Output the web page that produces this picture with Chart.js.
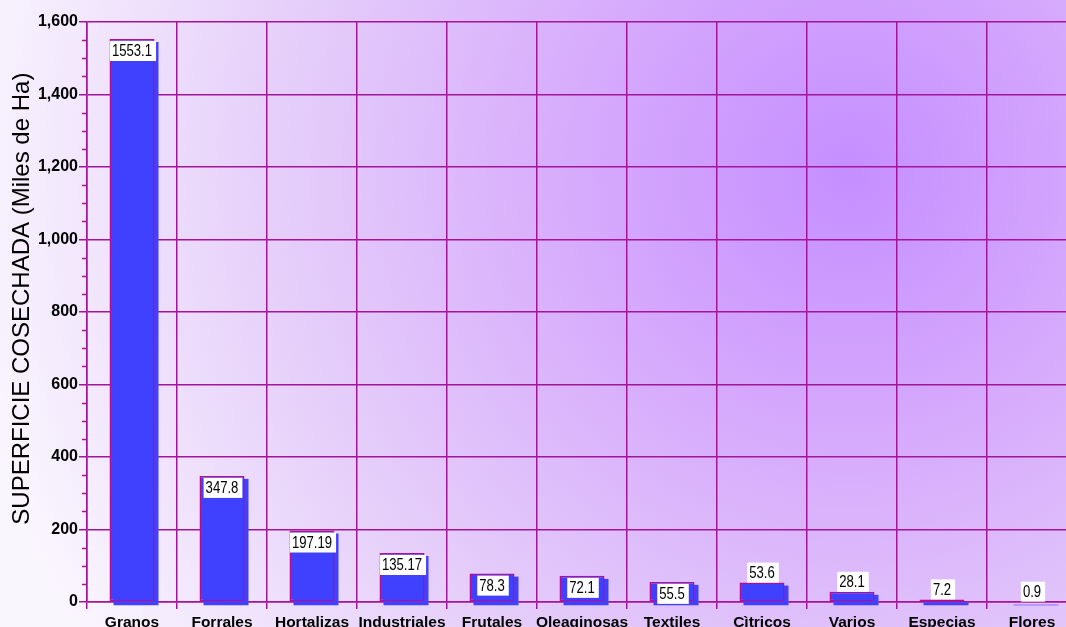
<!DOCTYPE html>
<html>
<head>
<meta charset="utf-8">
<script src="https://cdn.jsdelivr.net/npm/chart.js@4.4.1/dist/chart.umd.min.js"></script>
<style>
  html, body { margin: 0; padding: 0; overflow: hidden; background: #f6f0fd; }
  canvas { display: block; }
</style>
</head>
<body>
<canvas id="chart" width="1080" height="640"></canvas>
<script>
// categories and harvested area (miles de Ha)
const categories = ["Granos", "Forrales", "Hortalizas", "Industriales", "Frutales", "Oleaginosas",
  "Textiles", "Cìtricos", "Varios", "Especias", "Flores"];
const superficie = [1553.1, 347.8, 197.19, 135.17, 78.3, 72.1, 55.5, 53.6, 28.1, 7.2, 0.9];
const yMax = 1600;
const yStep = 200;
const yMinorStep = 50;

const gridColor = "#a3149a";
const barBlue = "#4040ff";

// radial purple background
const backgroundPlugin = {
  id: "bg",
  beforeDraw(chart) {
    const ctx = chart.ctx;
    const g = ctx.createRadialGradient(850, 170, 0, 850, 170, 900);
    g.addColorStop(0, "#c58eff");
    g.addColorStop(0.3, "#d6aafc");
    g.addColorStop(0.65, "#e6d0fa");
    g.addColorStop(1, "#faf6fe");
    ctx.save();
    ctx.fillStyle = g;
    ctx.fillRect(0, 0, chart.width, chart.height);
    ctx.restore();
  }
};

// blue offset "shadow" behind each bar
const barShadowPlugin = {
  id: "barShadow",
  beforeDatasetsDraw(chart) {
    const ctx = chart.ctx;
    ctx.save();
    ctx.fillStyle = barBlue;
    chart.getDatasetMeta(0).data.forEach((bar) => {
      const { x, y, base, width } = bar.getProps(["x", "y", "base", "width"], true);
      ctx.fillRect(x - width / 2 + 4, y + 3, width, base - y + 1);
    });
    ctx.restore();
  }
};

// short minor ticks on the value axis
const minorTicksPlugin = {
  id: "minorTicks",
  afterDraw(chart) {
    const y = chart.scales.y;
    const ctx = chart.ctx;
    ctx.save();
    ctx.strokeStyle = gridColor;
    ctx.lineWidth = 1.5;
    for (let v = 0; v <= yMax; v += yMinorStep) {
      if (v % yStep === 0) continue;
      const py = Math.round(y.getPixelForValue(v)) + 0.5;
      ctx.beginPath();
      ctx.moveTo(y.right - 5, py);
      ctx.lineTo(y.right, py);
      ctx.stroke();
    }
    ctx.restore();
  }
};

// white value boxes (narrow-looking text)
const valueLabelPlugin = {
  id: "valueLabels",
  afterDatasetsDraw(chart) {
    const ctx = chart.ctx;
    const data = chart.data.datasets[0].data;
    const squeeze = 0.82;
    ctx.save();
    ctx.font = "16px 'Liberation Sans', Arial, sans-serif";
    ctx.textBaseline = "middle";
    ctx.textAlign = "left";
    chart.getDatasetMeta(0).data.forEach((bar, i) => {
      const { x, y } = bar.getProps(["x", "y"], true);
      const txt = String(data[i]);
      const w = ctx.measureText(txt).width * squeeze;
      const bw = w + 6;
      const bh = 20;
      const top = data[i] >= 55 ? y + 2 : y - bh;
      const left = x - bw / 2 + 1;
      ctx.fillStyle = "#ffffff";
      ctx.fillRect(left, top, bw, bh);
      ctx.fillStyle = "#000000";
      ctx.save();
      ctx.translate(left + 2, top + bh / 2 + 1);
      ctx.scale(squeeze, 1);
      ctx.fillText(txt, 0, 0);
      ctx.restore();
    });
    ctx.restore();
  }
};

new Chart(document.getElementById("chart"), {
  type: "bar",
  data: {
    labels: categories,
    datasets: [
      {
        data: superficie,
        backgroundColor: barBlue,
        borderColor: "#b0108f",
        borderWidth: 1.5,
        borderSkipped: false,
        barPercentage: 0.5,
        categoryPercentage: 1
      }
    ]
  },
  options: {
    responsive: false,
    animation: false,
    devicePixelRatio: 1,
    layout: { padding: { top: 22, right: 3, left: 0, bottom: 0 } },
    plugins: {
      legend: { display: false },
      tooltip: { enabled: false }
    },
    scales: {
      x: {
        grid: { color: gridColor, lineWidth: 1.5, tickLength: 7, tickColor: gridColor, offset: true },
        border: { color: gridColor, width: 1.5 },
        ticks: {
          color: "#000",
          font: { family: "'Liberation Sans', Arial, sans-serif", size: 15.5, weight: "bold" },
          maxRotation: 0,
          autoSkip: false,
          padding: 4
        },
        afterFit(scale) { scale.height = 38; }
      },
      y: {
        min: 0,
        max: yMax,
        grid: { color: gridColor, lineWidth: 1.5, tickLength: 8, tickColor: gridColor },
        border: { color: gridColor, width: 1.5 },
        ticks: {
          stepSize: yStep,
          color: "#000",
          padding: 1,
          font: { family: "'Liberation Sans', Arial, sans-serif", size: 16, weight: "bold" },
          callback: (v) => v.toLocaleString("en-US")
        },
        title: {
          display: true,
          // leading spaces nudge the rotated title upward
          text: "\u00a0\u00a0\u00a0\u00a0SUPERFICIE COSECHADA (Miles de Ha)",
          color: "#000",
          font: { family: "'Liberation Sans', Arial, sans-serif", size: 24, weight: "normal" },
          padding: { top: 8, bottom: 0 }
        },
        afterFit(scale) { scale.width = 87; }
      }
    }
  },
  plugins: [backgroundPlugin, barShadowPlugin, minorTicksPlugin, valueLabelPlugin]
});
</script>
</body>
</html>
